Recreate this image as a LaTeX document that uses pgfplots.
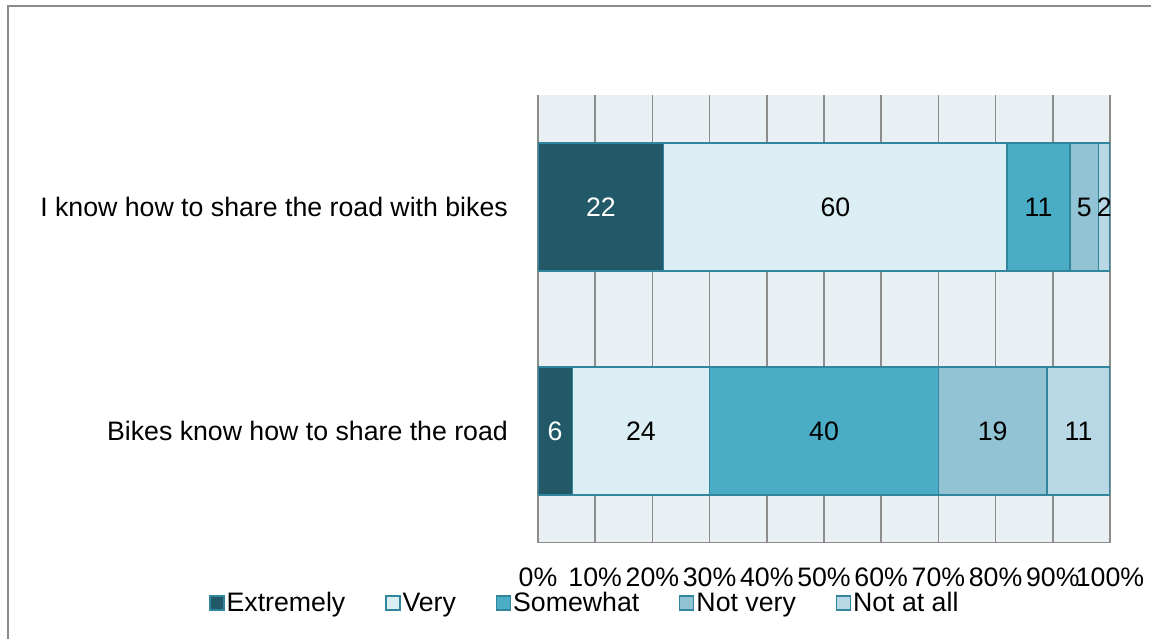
\documentclass[border=0pt]{standalone}
\usepackage{pgfplots}
\pgfplotsset{compat=1.18}
\usepackage{fontspec}
\setmainfont{Liberation Sans}
\definecolor{cExt}{HTML}{215968}
\definecolor{cVery}{HTML}{DAEEF3}
\definecolor{cSome}{HTML}{4BACC6}
\definecolor{cNotv}{HTML}{92C3D4}
\definecolor{cNot}{HTML}{B7D8E4}
\definecolor{cEdge}{HTML}{31859C}
\definecolor{cBg}{HTML}{E8F0F3}
\definecolor{cGrid}{HTML}{8C8C8C}
\newcommand{\bigf}{\fontsize{26.7}{30}\selectfont}
\begin{document}
\begin{tikzpicture}
\useasboundingbox (0,0) rectangle (1151pt,639pt);
\draw[color=cGrid, line width=2pt] (8pt,0) -- (8pt,632.5pt) -- (1151pt,632.5pt);
\begin{axis}[
  at={(538pt,96pt)}, anchor=south west,
  scale only axis, width=572pt, height=448pt,
  xbar stacked, bar width=128pt,
  xmin=0, xmax=100, ymin=-0.5, ymax=1.5,
  xtick={0,10,...,100},
  xticklabel={\pgfmathprintnumber{\tick}\%},
  /pgf/number format/assume math mode=true,
  ytick={0,1},
  yticklabels={Bikes know how to share the road, I know how to share the road with bikes},
  major tick length=0pt,
  tick label style={font=\bigf, inner sep=0pt},
  xticklabel style={yshift=-25pt},
  yticklabel style={xshift=-30pt},
  xmajorgrids, ymajorgrids=false,
  grid style={color=cGrid, line width=1.6pt},
  axis line style={draw=none},
  axis background/.style={fill=cBg},
  legend columns=5,
  legend style={at={(axis description cs:-0.580,-0.134)}, anchor=west,
    draw=none, fill=none, font=\bigf,
    /tikz/every even column/.append style={column sep=38pt}},
  legend image code/.code={\draw[#1, line width=1.2pt] (0pt,-7pt) rectangle (14pt,7pt);},
  every axis plot/.append style={draw=cEdge, line width=1.2pt},
]
\addplot[fill=cExt, draw=cEdge] coordinates {(6,0) (22,1)};
\addplot[fill=cVery, draw=cEdge] coordinates {(24,0) (60,1)};
\addplot[fill=cSome, draw=cEdge] coordinates {(40,0) (11,1)};
\addplot[fill=cNotv, draw=cEdge] coordinates {(19,0) (5,1)};
\addplot[fill=cNot, draw=cEdge] coordinates {(11,0) (2,1)};
\legend{Extremely, Very, Somewhat, Not very, Not at all}
\draw[color=cGrid, line width=2pt] (rel axis cs:0,1) -- (rel axis cs:0,0) -- (rel axis cs:1,0) -- (rel axis cs:1,1);
\end{axis}
\begin{axis}[
  at={(538pt,96pt)}, anchor=south west,
  scale only axis, width=572pt, height=448pt,
  xmin=0, xmax=100, ymin=-0.5, ymax=1.5,
  hide axis, clip=false,
]
\addplot[only marks, mark=none, draw=none,
  nodes near coords, point meta=explicit symbolic,
  every node near coord/.style={anchor=center, font=\bigf, text=white, inner sep=0pt}]
  coordinates {(3,0) [6] (11,1) [22]};
\addplot[only marks, mark=none, draw=none,
  nodes near coords, point meta=explicit symbolic,
  every node near coord/.style={anchor=center, font=\bigf, text=black, inner sep=0pt}]
  coordinates {(18,0) [24] (50,0) [40] (79.5,0) [19] (94.5,0) [11]
               (52,1) [60] (87.5,1) [11] (95.5,1) [5] (99,1) [2]};
\end{axis}
\end{tikzpicture}
\end{document}
